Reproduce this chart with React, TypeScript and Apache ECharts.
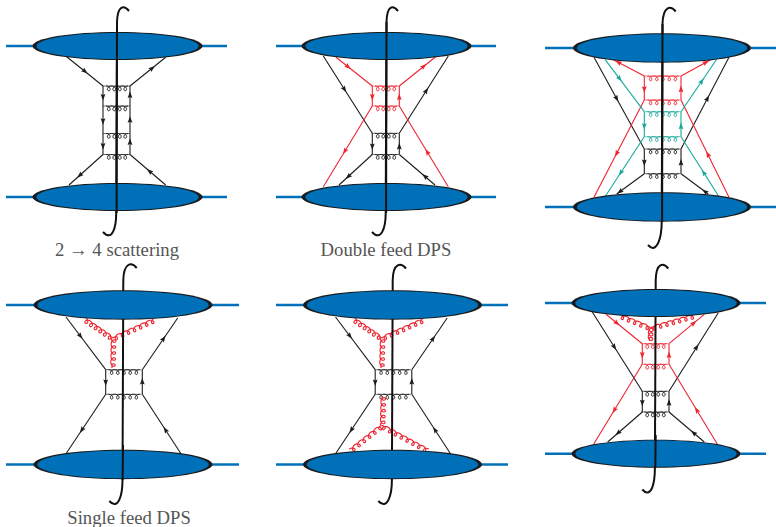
import React, { useEffect, useRef } from "react";
import * as echarts from "echarts";

const BLUE = "#0070b8", INK = "#1c1c1c", RED = "#ee2530", TEAL = "#17a99b";

// cx, cy, rx, ry
const blobs = [
  [117.5, 46, 85, 14], [117.5, 197, 85, 14],
  [386.5, 46, 85, 14], [386.5, 197, 85, 14],
  [662, 48, 89, 14.7], [662, 207, 89, 14.7],
  [123, 305, 89.5, 14.7], [123, 464.5, 89.5, 14.7],
  [392.5, 305, 89.5, 14.7], [392.5, 464.5, 89.5, 14.7],
  [656, 303, 84.5, 14], [656, 453.7, 84.5, 14],
];
// x1, y1, x2, y2
const protonLines = [
  [6, 46, 227, 46], [6, 197, 227, 197],
  [276, 46, 496, 46], [276, 197, 496, 197],
  [545, 48, 776, 48], [545, 207, 776, 207],
  [6, 305, 239, 305], [6, 464.5, 239, 464.5],
  [276, 305, 508, 305], [276, 464.5, 508, 464.5],
  [545, 303, 766, 303], [545, 453.7, 766, 453.7],
];
// x1, y1, x2, y2, arrow position along the line
const blackLines = [
  [66.7, 56.7, 103, 86, 0.5], [130, 86, 165.7, 57.3, 0.62],
  [103, 86, 103, 106, 0.55], [103, 106, 103, 133.5, 0.55], [103, 133.5, 103, 154.5, 0.6],
  [130, 154.5, 130, 133.5, 0.6], [130, 133.5, 130, 106, 0.5], [130, 106, 130, 86, 0.55],
  [103, 154.5, 69, 185, 0.68], [165.7, 185, 130, 154.5, 0.45],

  [323.3, 56, 372.3, 133.3, 0.43], [399.3, 133.3, 448.3, 56, 0.55],
  [372.3, 133.3, 372.3, 154.5, 0.62], [399.3, 154.5, 399.3, 133.3, 0.38],
  [372.3, 154.5, 339, 185, 0.72], [435, 185, 399.3, 154.5, 0.28],

  [594, 57.3, 644.3, 149, 0.45], [681, 149, 729, 57.3, 0.55],
  [644.3, 149, 644.3, 173.7, 0.55], [681, 173.7, 681, 149, 0.45],
  [644.3, 173.7, 616.7, 194, 0.88], [708.3, 194, 681, 173.7, 0.12],

  [66, 317, 105.7, 369.7, 0.36], [142.3, 369.7, 177.7, 318, 0.6],
  [105.7, 369.7, 105.7, 394.3, 0.52], [142.3, 394.3, 142.3, 369.7, 0.52],
  [105.7, 394.3, 66, 453.7, 0.6], [181, 453.7, 142.3, 394.3, 0.4],

  [335.5, 317, 375.2, 369.7, 0.36], [411.8, 369.7, 447.2, 318, 0.6],
  [375.2, 369.7, 375.2, 394.3, 0.52], [411.8, 394.3, 411.8, 369.7, 0.52],
  [375.2, 394.3, 335.5, 453.7, 0.6], [450.5, 453.7, 411.8, 394.3, 0.4],

  [592.3, 312, 642.3, 391.3, 0.44], [669, 391.3, 718.3, 312.7, 0.56],
  [642.3, 391.3, 642.3, 412, 0.55], [669, 412, 669, 391.3, 0.45],
  [642.3, 412, 607.7, 442, 0.7], [704.3, 442, 669, 412, 0.3],
];
const redLines = [
  [336, 57.3, 372.3, 86, 0.33], [399.3, 86, 435.7, 56.7, 0.67],
  [372.3, 86, 372.3, 106, 0.55], [399.3, 106, 399.3, 86, 0.45],
  [372.3, 106, 323.3, 186.7, 0.56], [448.3, 186.7, 399.3, 106, 0.43],

  [644.3, 76, 612, 59, 0.8], [681, 76, 712, 59, 0.8],
  [644.3, 76, 644.3, 100, 0.55], [681, 100, 681, 76, 0.45],
  [644.3, 100, 594, 197.3, 0.55], [729, 197.3, 681, 100, 0.44],

  [606, 314.3, 642.3, 343.7, 0.3], [669, 343.7, 704.3, 314.3, 0.7],
  [642.3, 343.7, 642.3, 364.3, 0.55], [669, 364.3, 669, 343.7, 0.45],
  [642.3, 364.3, 593.3, 444.7, 0.57], [717.7, 444.7, 669, 364.3, 0.43],
];
const tealLines = [
  [605, 59.3, 644.3, 111.7, 0.37], [681, 111.7, 716.7, 59.3, 0.58],
  [644.3, 111.7, 644.3, 136.7, 0.58], [681, 136.7, 681, 111.7, 0.42],
  [644.3, 136.7, 605, 196.7, 0.6], [719, 196.7, 681, 136.7, 0.4],
];
// rung gluons: x1, y1, x2, y2, loops, side
const blackRungs = [
  [106, 86, 128, 86, 4, 1], [106, 106, 128, 106, 4, 1], [106, 133.5, 128, 133.5, 4, 1], [106, 154.5, 128, 154.5, 4, 1],
  [375, 133.3, 397, 133.3, 4, 1], [375, 154.5, 397, 154.5, 4, 1],
  [647.5, 149, 678.5, 149, 5, 1], [647.5, 173.7, 678.5, 173.7, 5, 1],
  [108.5, 369.7, 139.5, 369.7, 5, 1], [108.5, 394.3, 139.5, 394.3, 5, 1],
  [378, 369.7, 409, 369.7, 5, 1], [378, 394.3, 409, 394.3, 5, 1],
  [644.5, 391.3, 666.5, 391.3, 4, 1], [644.5, 412, 666.5, 412, 4, 1],
];
const redRungs = [
  [375, 86, 397, 86, 4, 1], [375, 106, 397, 106, 4, 1],
  [647.5, 76, 678.5, 76, 5, 1], [647.5, 100, 678.5, 100, 5, 1],
  [644.5, 343.7, 666.5, 343.7, 4, 1], [644.5, 364.3, 666.5, 364.3, 4, 1],
];
const tealRungs = [
  [647.5, 111.7, 678.5, 111.7, 5, 1], [647.5, 136.7, 678.5, 136.7, 5, 1],
];
// three-gluon vertices: x1, y1, x2, y2, loops, side
const feedGluons = [
  [112.7, 338, 85, 319, 6, -1], [112.7, 338, 155, 319.3, 7, 1], [112, 368, 112.7, 338, 5, 1],
  [381.7, 338, 354, 319, 6, -1], [381.7, 338, 424, 319.3, 7, 1], [381, 368, 381.7, 338, 5, 1],
  [381.7, 425.3, 350, 450.3, 6, -1], [381.7, 425.3, 428.3, 450.3, 8, 1], [382.5, 396, 381.7, 425.3, 5, -1],
  [650.7, 327.7, 620, 315.3, 5, -1], [650.7, 327.7, 695, 315.3, 7, 1], [649.5, 341, 650, 327.7, 3, 1],
];
// tip x, tip y, stem x, stem top y, stem bottom y, tail x, tail y
const cuts = [
  [129, 11, 117, 22, 213, 103, 232],
  [398, 11, 386.5, 22, 213, 372, 232],
  [675.7, 11.5, 662.5, 24, 222, 648, 245],
  [136.7, 268, 123.3, 280, 480, 109.3, 501],
  [406, 268.5, 392.7, 280, 480, 378.3, 501],
  [668.3, 268.5, 655.7, 280, 468, 642.3, 489.5],
];
// cuts that pass in front of a blob: x, y1, y2
const frontCuts = [
  [117, 22, 213], [386.5, 22, 213], [662.5, 24, 222], [655.7, 435, 468], [123, 445, 480],
];
const captionTexts = ["2 → 4 scattering", "Double feed DPS", "Single feed DPS"];
const captionXs = [117, 386, 129];
const captionYs = [249, 249, 517];

const px = (api: any, x: number, y: number) => api.coord([x, y]);

function custom(rows: number[][], renderItem: any, z: number) {
  return {
    type: "custom", coordinateSystem: "cartesian2d", data: rows, renderItem, z, silent: true, clip: false,
  } as any;
}

const lineItem = (color: string, width: number) => (_: any, api: any) => {
  const a = px(api, api.value(0), api.value(1));
  const b = px(api, api.value(2), api.value(3));
  return {
    type: "line",
    shape: { x1: a[0], y1: a[1], x2: b[0], y2: b[1] },
    style: { stroke: color, lineWidth: width, fill: "none" },
  };
};

const flowItem = (color: string) => (_: any, api: any) => {
  const a = px(api, api.value(0), api.value(1));
  const b = px(api, api.value(2), api.value(3));
  const t = api.value(4);
  const dx = b[0] - a[0], dy = b[1] - a[1];
  const len = Math.hypot(dx, dy) || 1;
  const ux = dx / len, uy = dy / len;
  const cx = a[0] + dx * t, cy = a[1] + dy * t;
  return {
    type: "group",
    children: [
      { type: "line", shape: { x1: a[0], y1: a[1], x2: b[0], y2: b[1] }, style: { stroke: color, lineWidth: 1.1, fill: "none" } },
      {
        type: "polygon",
        shape: { points: [
          [cx + ux * 3.6, cy + uy * 3.6],
          [cx - ux * 3 - uy * 2.4, cy - uy * 3 + ux * 2.4],
          [cx - ux * 2, cy - uy * 2],
          [cx - ux * 3 + uy * 2.4, cy - uy * 3 - ux * 2.4],
        ] },
        style: { fill: color, stroke: "none" },
      },
    ],
  };
};

// centred = false: arcs touch the spine, loops hang off it (rungs). true: coil winds round the spine.
const coilItem = (color: string, centred: boolean) => (_: any, api: any) => {
  const a = px(api, api.value(0), api.value(1));
  const b = px(api, api.value(2), api.value(3));
  const loops = api.value(4), side = api.value(5);
  const dx = b[0] - a[0], dy = b[1] - a[1];
  const len = Math.hypot(dx, dy) || 1;
  const ux = dx / len, uy = dy / len;
  const nx = -uy * side, ny = ux * side;
  const r = centred ? 2.3 : 2.4, back = 2.6;
  const pts: number[][] = [];
  const steps = loops * 24;
  for (let i = 0; i <= steps; i++) {
    const s = i / steps, th = 2 * Math.PI * (loops * s);
    const al = len * s + back * Math.sin(th);
    const off = r * ((centred ? 0.4 : 1) - Math.cos(th));
    const fade = centred ? Math.min(1, s * loops * 2) : 1;
    pts.push([a[0] + ux * al + nx * off * fade, a[1] + uy * al + ny * off * fade]);
  }
  return {
    type: "polyline",
    shape: { points: pts },
    style: { stroke: color, lineWidth: centred ? 1.15 : 1, fill: "none" },
  };
};

const rungItem = (color: string) => (_: any, api: any) => {
  const a = px(api, api.value(0) - 3.2, api.value(1));
  const b = px(api, api.value(2) + 2, api.value(3));
  return {
    type: "line",
    shape: { x1: a[0], y1: a[1], x2: b[0], y2: b[1] },
    style: { stroke: color, lineWidth: 0.8, opacity: 0.8, fill: "none" },
  };
};

const blobItem = (_: any, api: any) => {
  const c = px(api, api.value(0), api.value(1));
  const rx = api.value(2), ry = api.value(3);
  return {
    type: "group",
    children: [
      { type: "ellipse", shape: { cx: c[0], cy: c[1], rx, ry }, style: { fill: "#1a1a1a" } },
      { type: "ellipse", shape: { cx: c[0], cy: c[1], rx: rx - 3.8, ry: ry - 0.9 }, style: { fill: BLUE } },
    ],
  };
};

const cutItem = (_: any, api: any) => {
  const v = (i: number) => api.value(i);
  const tip = px(api, v(0), v(1));
  const c1 = px(api, v(0) - 5, v(1) - 6);
  const c2 = px(api, v(2) + 0.5, v(1) - 6);
  const top = px(api, v(2), v(3));
  const bot = px(api, v(2) - 0.8, v(4));
  const c3 = px(api, v(2) - 0.8, v(4) + 15);
  const c4 = px(api, v(5) + 9, v(6) + 10);
  const tail = px(api, v(5), v(6));
  const style = { stroke: "#111", lineWidth: 2, fill: "none" };
  return {
    type: "group",
    children: [
      { type: "bezierCurve", shape: { x1: tip[0], y1: tip[1], cpx1: c1[0], cpy1: c1[1], cpx2: c2[0], cpy2: c2[1], x2: top[0], y2: top[1] }, style },
      { type: "line", shape: { x1: top[0], y1: top[1], x2: bot[0], y2: bot[1] }, style },
      { type: "bezierCurve", shape: { x1: bot[0], y1: bot[1], cpx1: c3[0], cpy1: c3[1], cpx2: c4[0], cpy2: c4[1], x2: tail[0], y2: tail[1] }, style },
    ],
  };
};

const frontCutItem = (_: any, api: any) => {
  const x = api.value(0);
  const a = px(api, x, api.value(1));
  const b = px(api, x - 0.4, api.value(2));
  return {
    type: "line",
    shape: { x1: a[0], y1: a[1], x2: b[0], y2: b[1] },
    style: { stroke: "#111", lineWidth: 2, fill: "none" },
  };
};

const captionItem = (_: any, api: any) => {
  const i = api.value(2);
  const c = px(api, api.value(0), api.value(1));
  return {
    type: "text",
    x: c[0], y: c[1],
    style: {
      text: captionTexts[i],
      fill: "#555555",
      font: "18.7px 'Liberation Serif'",
      align: "center",
      verticalAlign: "middle",
    },
  };
};

export default function App() {
  const ref = useRef<HTMLDivElement>(null);
  useEffect(() => {
    document.body.style.margin = "0";
    const chart = echarts.init(ref.current!, null, { renderer: "svg" });
    chart.setOption({
      animation: false,
      backgroundColor: "#ffffff",
      grid: { left: 0, right: 0, top: 0, bottom: 0 },
      xAxis: { type: "value", min: 0, max: 776, show: false },
      yAxis: { type: "value", min: 0, max: 527, inverse: true, show: false },
      series: [
        custom(protonLines, lineItem(BLUE, 2.5), 1),
        custom(blackLines, flowItem(INK), 2),
        custom(redLines, flowItem(RED), 2),
        custom(tealLines, flowItem(TEAL), 2),
        custom(blackRungs, rungItem(INK), 2),
        custom(redRungs, rungItem(RED), 2),
        custom(tealRungs, rungItem(TEAL), 2),
        custom(blackRungs, coilItem(INK, false), 3),
        custom(redRungs, coilItem(RED, false), 3),
        custom(tealRungs, coilItem(TEAL, false), 3),
        custom(feedGluons, coilItem(RED, true), 3),
        custom(cuts, cutItem, 4),
        custom(blobs, blobItem, 5),
        custom(frontCuts, frontCutItem, 6),
        custom(captionXs.map((x, i) => [x, captionYs[i], i]), captionItem, 7),
      ],
    });
    return () => chart.dispose();
  }, []);
  return <div ref={ref} style={{ width: 776, height: 527 }} />;
}
